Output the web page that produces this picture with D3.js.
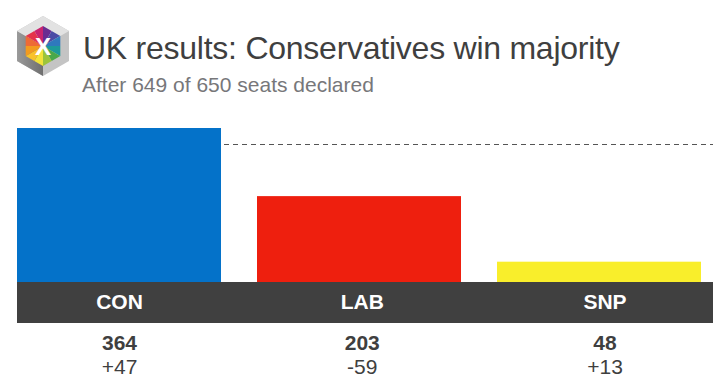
<!DOCTYPE html>
<html>
<head>
<meta charset="utf-8">
<script src="https://cdn.jsdelivr.net/npm/d3@7"></script>
<style>
html, body { margin: 0; padding: 0; background: #fff; }
svg { display: block; }
text { font-family: "Liberation Sans", Arial, sans-serif; }
</style>
</head>
<body>
<svg id="chart" width="713" height="379"></svg>
<script>
const parties = ["CON", "LAB", "SNP"];
const seats = [364, 203, 48];
const changes = ["+47", "-59", "+13"];
const partyColors = ["#0472c9", "#ee1f0e", "#f9ee2b"];
const majority = 326;
const wedgeColors = ["#6a2c91", "#4a4aa5", "#2f79bd", "#1d9a9a", "#4aa84a", "#9cc43a", "#f2e33a", "#f9c22a", "#f39a1e", "#ee6a35", "#e5344a", "#c9246f"];

const svg = d3.select("#chart");

// bars share one scale, 0 seats sits on top of the dark band
const x = d3.scaleBand().domain(parties).range([17, 701]).paddingInner(36 / 240);
const y = d3.scaleLinear().domain([0, 364]).range([282, 128]);
// labels are spaced a bit wider than the bars
const labelX = d3.scalePoint().domain(parties).range([119.5, 605]);

// logo
const logo = svg.append("g").attr("transform", "translate(43,46)");
const hexPoint = (r, i) => [r * Math.sin(i * Math.PI / 3), -r * Math.cos(i * Math.PI / 3)];
const hex = r => d3.range(6).map(i => hexPoint(r, i));
const grad = svg.append("defs").append("linearGradient").attr("id", "leftFace").attr("x1", 0).attr("x2", 1);
grad.append("stop").attr("offset", 0).attr("stop-color", "#9a9a9a");
grad.append("stop").attr("offset", 1).attr("stop-color", "#6f6f6f");
d3.select("defs").append("clipPath").attr("id", "innerHex")
    .append("polygon").attr("points", hex(20));
logo.append("polygon").attr("points", hex(30)).attr("fill", "#c4c4c4");
logo.append("polygon").attr("points", [hexPoint(30, 5), hexPoint(30, 4), hexPoint(30, 3), [0, 0]]).attr("fill", "url(#leftFace)");
logo.append("polygon").attr("points", [hexPoint(30, 5), hexPoint(30, 0), hexPoint(30, 1), [0, 0]]).attr("fill", "#e2e2e2");
const arc = d3.arc().innerRadius(0).outerRadius(26);
logo.append("g").attr("clip-path", "url(#innerHex)")
    .selectAll(".wedge")
    .data(d3.pie().value(1).sort(null)(wedgeColors))
    .enter().append("path")
    .attr("class", "wedge")
    .attr("d", arc)
    .attr("fill", d => d.data);
logo.append("text")
    .text("X")
    .attr("y", 9)
    .attr("text-anchor", "middle")
    .style("font-size", "24px")
    .style("font-weight", "bold")
    .style("fill", "#fff");

// title
svg.append("text")
    .text("UK results: Conservatives win majority")
    .attr("x", 83)
    .attr("y", 59)
    .style("font-size", "32px")
    .style("letter-spacing", "-0.25px")
    .style("fill", "#3f3f3f");
svg.append("text")
    .text("After 649 of 650 seats declared")
    .attr("x", 82)
    .attr("y", 92)
    .style("font-size", "21px")
    .style("fill", "#77777a");

// majority line
svg.append("line")
    .attr("x1", x("CON") + x.bandwidth() + 3)
    .attr("x2", 713)
    .attr("y1", Math.floor(y(majority)) + 0.5)
    .attr("y2", Math.floor(y(majority)) + 0.5)
    .style("stroke", "#555")
    .style("stroke-width", 1)
    .style("stroke-dasharray", "5,4");

// bars
svg.selectAll(".bar")
    .data(parties)
    .enter().append("rect")
    .attr("class", "bar")
    .attr("x", d => x(d))
    .attr("width", x.bandwidth())
    .attr("y", (d, i) => y(seats[i]))
    .attr("height", (d, i) => y(0) - y(seats[i]))
    .style("fill", (d, i) => partyColors[i]);

// dark band with the party names
svg.append("rect")
    .attr("x", 17)
    .attr("y", 282)
    .attr("width", 696)
    .attr("height", 41)
    .style("fill", "#404040");

const labels = svg.selectAll(".party")
    .data(parties)
    .enter().append("g")
    .attr("class", "party")
    .attr("transform", d => "translate(" + labelX(d) + ",0)")
    .attr("text-anchor", "middle");
labels.append("text")
    .text(d => d)
    .attr("y", 309)
    .style("font-size", "21px")
    .style("font-weight", "bold")
    .style("fill", "#fff");
labels.append("text")
    .text((d, i) => seats[i])
    .attr("y", 350)
    .style("font-size", "21px")
    .style("font-weight", "bold")
    .style("fill", "#3f3f3f");
labels.append("text")
    .text((d, i) => changes[i])
    .attr("y", 374)
    .style("font-size", "21px")
    .style("fill", "#3f3f3f");
</script>
</body>
</html>
